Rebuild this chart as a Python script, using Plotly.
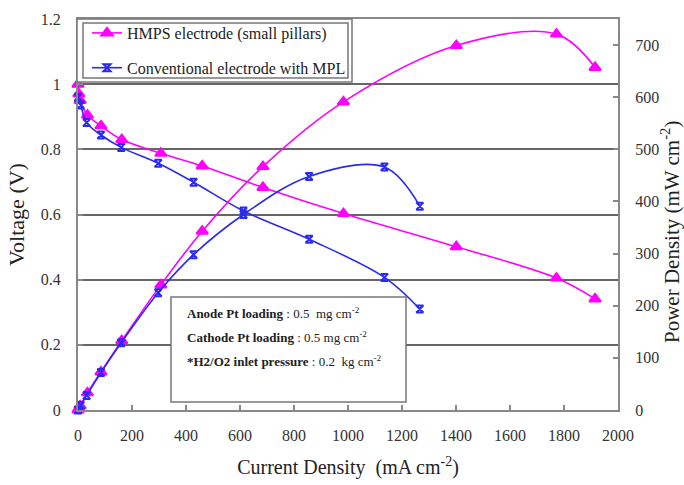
import plotly.graph_objects as go

# ---- data ----
hmps_current = [0, 3, 8, 35, 85, 162, 307, 460, 685, 983, 1401, 1772, 1915]
hmps_voltage = [1.0, 0.97, 0.95, 0.905, 0.872, 0.83, 0.788, 0.749, 0.683, 0.603, 0.501, 0.405, 0.341]
hmps_power = [0, 3, 8, 33, 73, 133, 240, 343, 467, 591, 699, 721, 657]

conv_current = [0, 10, 32, 85, 160, 297, 428, 613, 856, 1135, 1266]
conv_voltage = [0.96, 0.936, 0.882, 0.844, 0.806, 0.757, 0.699, 0.611, 0.524, 0.407, 0.31]
conv_power = [0, 9, 28, 72, 129, 225, 298, 375, 448, 466, 391]

x_ticks = list(range(0, 2001, 200))
v_ticks = [0, 0.2, 0.4, 0.6, 0.8, 1.0, 1.2]
p_ticks = list(range(0, 701, 100))

notes = [
    "<b>Anode Pt loading</b> : 0.5  mg cm<sup>-2</sup>",
    "<b>Cathode Pt loading</b> : 0.5 mg cm<sup>-2</sup>",
    "<b>*H2/O2 inlet pressure</b> : 0.2  kg cm<sup>-2</sup>",
]
power_title = "Power Density (mW cm<sup>-2</sup>)"

FONT = "Liberation Serif"
MAG = "#ff00ff"
BLUE = "#2a2af0"

fig = go.Figure()

def add(x, y, color, symbol, size, name, group, axis, legend):
    fig.add_trace(go.Scatter(
        x=x, y=y, mode="lines+markers", name=name, legendgroup=group,
        showlegend=legend, yaxis=axis, cliponaxis=False,
        line=dict(color=color, width=1.6, shape="spline", smoothing=1),
        marker=dict(symbol=symbol, size=size, color=color,
                    line=dict(color=color, width=2)),
    ))

add(hmps_current, hmps_voltage, MAG, "triangle-up", 10,
    "HMPS electrode (small pillars)", "hmps", "y", True)
add(hmps_current, hmps_power, MAG, "triangle-up", 10,
    "HMPS electrode (small pillars)", "hmps", "y2", False)
add(conv_current, conv_voltage, BLUE, "hourglass-open", 7,
    "Conventional electrode with MPL", "conv", "y", True)
add(conv_current, conv_power, BLUE, "hourglass-open", 7,
    "Conventional electrode with MPL", "conv", "y2", False)

L, R, T, B = 78, 618, 19, 410
W, H = 684, 485

def px(xp):
    return (xp - L) / (R - L)

def py(yp):
    return (B - yp) / (B - T)

shapes = [
    # legend double frame
    dict(type="rect", xref="paper", yref="paper", layer="above",
         x0=px(77), x1=px(352), y0=py(82), y1=py(19),
         line=dict(color="#777", width=1.5), fillcolor="white"),
    dict(type="rect", xref="paper", yref="paper", layer="above",
         x0=px(83), x1=px(348), y0=py(78), y1=py(23),
         line=dict(color="#777", width=1.5), fillcolor="rgba(0,0,0,0)"),
    # info box
    dict(type="rect", xref="paper", yref="paper", layer="above",
         x0=px(171), x1=px(406), y0=py(402), y1=py(297),
         line=dict(color="#777", width=1.5), fillcolor="white"),
]

annotations = []
for i, t in enumerate(notes):
    annotations.append(dict(
        xref="paper", yref="paper", x=px(185), y=py(313 + 24 * i),
        xanchor="left", yanchor="middle", showarrow=False, text=t,
        font=dict(family=FONT, size=13, color="#222"),
    ))
# right-hand axis title
annotations.append(dict(
    xref="paper", yref="paper", x=px(671), y=py(232),
    xanchor="center", yanchor="middle", showarrow=False, textangle=-90,
    text=power_title, font=dict(family=FONT, size=21, color="#222"),
))

axis_common = dict(
    showline=True, linecolor="#888", linewidth=2,
    ticks="inside", ticklen=5, tickcolor="#888", tickwidth=1.5,
    tickfont=dict(family=FONT, size=16, color="#333"),
    zeroline=False, automargin=False,
)

fig.update_layout(
    width=W, height=H,
    margin=dict(l=L, r=W - R, t=T, b=H - B, autoexpand=False),
    paper_bgcolor="white", plot_bgcolor="white",
    font=dict(family=FONT),
    shapes=shapes, annotations=annotations,
    legend=dict(x=px(87), y=py(16), xanchor="left", yanchor="top",
                bgcolor="rgba(0,0,0,0)", traceorder="grouped",
                tracegroupgap=11, font=dict(family=FONT, size=16, color="#222")),
    xaxis=dict(range=[0, 2000], tickvals=x_ticks, mirror=True,
               showgrid=False, ticklabelstandoff=10,
               title=dict(text="Current Density  (mA cm<sup>-2</sup>)",
                          font=dict(family=FONT, size=20, color="#222"), standoff=17),
               **axis_common),
    yaxis=dict(range=[0, 1.2], tickvals=v_ticks, showgrid=True,
               gridcolor="#666", gridwidth=1.5, ticklabelstandoff=12,
               title=dict(text="Voltage (V)",
                          font=dict(family=FONT, size=22, color="#222"), standoff=10),
               **axis_common),
    yaxis2=dict(range=[0, 750], tickvals=p_ticks, overlaying="y", side="right",
                showgrid=False, ticklabelstandoff=12,
                **axis_common),
)

fig.write_html("out.html")
